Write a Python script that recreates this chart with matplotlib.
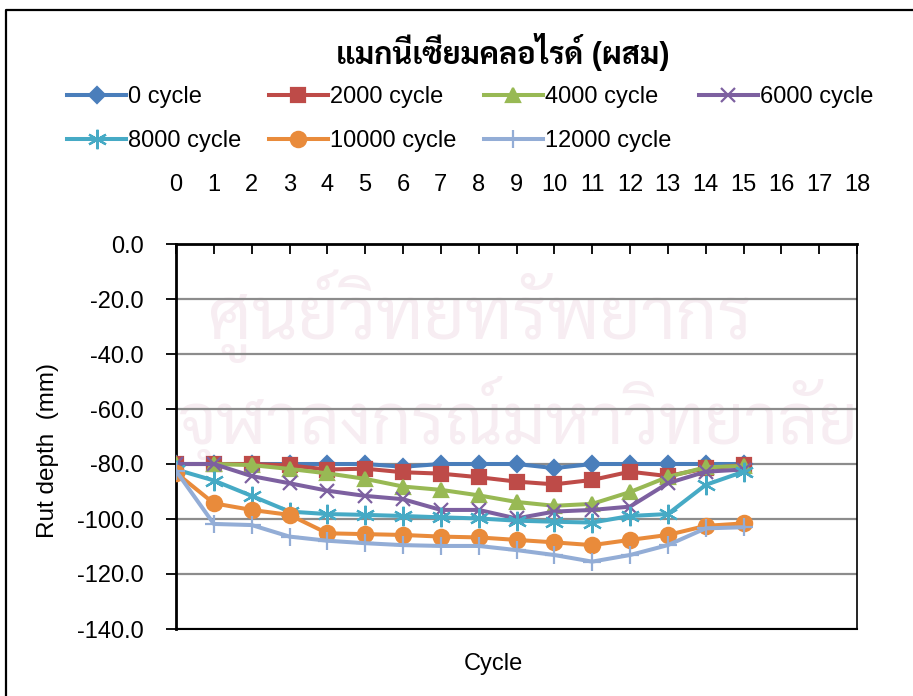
import matplotlib
matplotlib.use('Agg')
import matplotlib.pyplot as plt
from matplotlib.lines import Line2D
from matplotlib.ticker import FormatStrFormatter

thai = ['Sarabun', 'Noto Sans Thai Looped', 'Noto Sans Thai', 'Athiti']
plt.rcParams['font.family'] = ['Liberation Sans'] + thai + ['DejaVu Sans']

points = list(range(16))
series_names = ['0 cycle', '2000 cycle', '4000 cycle', '6000 cycle',
                '8000 cycle', '10000 cycle', '12000 cycle']
c0 = [-80, -80, -80, -80, -80, -80, -81, -80, -80, -80, -81.5, -80, -80, -80, -80, -80]
c2000 = [-80, -80, -80, -80.5, -82, -81.7, -83, -83.5, -84.8, -86.4, -87.4, -85.8, -82.8, -84.4, -81.6, -80.4]
c4000 = [-80, -80, -80.4, -81.8, -83.4, -85.4, -88.2, -89.4, -91.4, -93.8, -95.2, -94.5, -90.2, -84.7, -81.2, -80.7]
c6000 = [-80, -80, -84.4, -87, -89.7, -91.6, -92.8, -96.7, -96.7, -99.8, -97.3, -96.7, -95.5, -87, -82.8, -82]
c8000 = [-82, -86, -91.6, -97.3, -98.2, -98.5, -98.9, -99.4, -99.8, -100.6, -101, -101.3, -98.9, -98.2, -87.6, -82.8]
c10000 = [-83.2, -94.3, -96.7, -98.5, -105.2, -105.5, -105.8, -106.4, -106.7, -107.6, -108.5, -109.5, -107.6, -105.8, -102.5, -101.6]
c12000 = [-82.5, -101.8, -102.2, -106.4, -107.9, -108.8, -109.5, -109.8, -109.8, -111.3, -113.1, -115.5, -113.1, -109.5, -103.4, -103]
values = [c0, c2000, c4000, c6000, c8000, c10000, c12000]

colors = ['#4A7EBB', '#BE4B48', '#98B954', '#7D60A0', '#46AAC5', '#E98B3B', '#93ADD6']
markers = ['D', 's', '^', 'x', (6, 2, 0), 'o', '+']
msizes = [8, 10, 10, 10, 14, 11, 13]

fig = plt.figure(figsize=(9.13, 6.96), dpi=100)

# faint watermark behind the chart (kept inside the plot area)
wm = '#F7EDF2'
fig.text(480 / 913, 0.545, 'ศูนย์วิทยทรัพยากร', fontsize=52, color=wm, ha='center', va='center',
         zorder=-1, family=thai)
fig.text(518 / 913, 0.395, 'จุฬาลงกรณ์มหาวิทยาลัย', fontsize=50, color=wm, ha='center', va='center',
         zorder=-1, family=thai)

ax = fig.add_axes([176 / 913, 1 - 629 / 696, (857 - 176) / 913, (629 - 244) / 696])
ax.set_facecolor('none')

for vals, name, col, mk, ms in zip(values, series_names, colors, markers, msizes):
    ax.plot(points, vals, color=col, lw=2.9, marker=mk, ms=ms, mfc=col, mec=col,
            mew=1.6, label=name, zorder=3)

ax.set_xlim(0, 18)
ax.set_ylim(-140, 0)
ax.set_xticks(range(19))
ax.set_yticks(range(-140, 1, 20))
ax.yaxis.set_major_formatter(FormatStrFormatter('%.1f'))
ax.xaxis.tick_top()
ax.tick_params(axis='x', direction='in', length=7, width=1.3, pad=34.5, labelsize=17, colors='black')
ax.tick_params(axis='y', direction='out', length=7, width=1.3, pad=16, labelsize=17)
ax.grid(axis='y', color='#8C8C8C', lw=1.6)
ax.set_axisbelow(True)
for s in ax.spines.values():
    s.set_color('black')
ax.spines['top'].set_linewidth(2)
ax.spines['left'].set_linewidth(2)
ax.spines['bottom'].set_linewidth(1.5)
ax.spines['right'].set_linewidth(1.2)

fig.text(493 / 913, 1 - 664 / 696, 'Cycle', fontsize=17, ha='center', va='center')
fig.text(48 / 913, 1 - 450 / 696, 'Rut depth  (mm)', fontsize=17.5, ha='center', va='center',
         rotation=90)
fig.text(503 / 913, 1 - 52 / 696, 'แมกนีเซียมคลอไรด์ (ผสม)', fontsize=22, fontweight='bold',
         ha='center', va='center', family=['Liberation Sans'] + thai)

# legend fills column by column, so interleave to get the rows of the picture
handles, labels = ax.get_legend_handles_labels()
order = [0, 4, 1, 5, 2, 6, 3]
fig.legend([handles[i] for i in order], [labels[i] for i in order], loc='upper left',
           bbox_to_anchor=(67 / 913, 1 - 86 / 696), ncol=4, frameon=False, fontsize=17,
           handlelength=2.5, handletextpad=0.1, columnspacing=1.15, labelspacing=0.95,
           borderaxespad=0, borderpad=0)

# outer chart border (left and top edges visible in the picture)
fig.add_artist(Line2D([6 / 913, 6 / 913, 1.0], [0, 1 - 10 / 696, 1 - 10 / 696],
                      transform=fig.transFigure, color='black', lw=1.6))

fig.savefig('out.png', dpi=100)
